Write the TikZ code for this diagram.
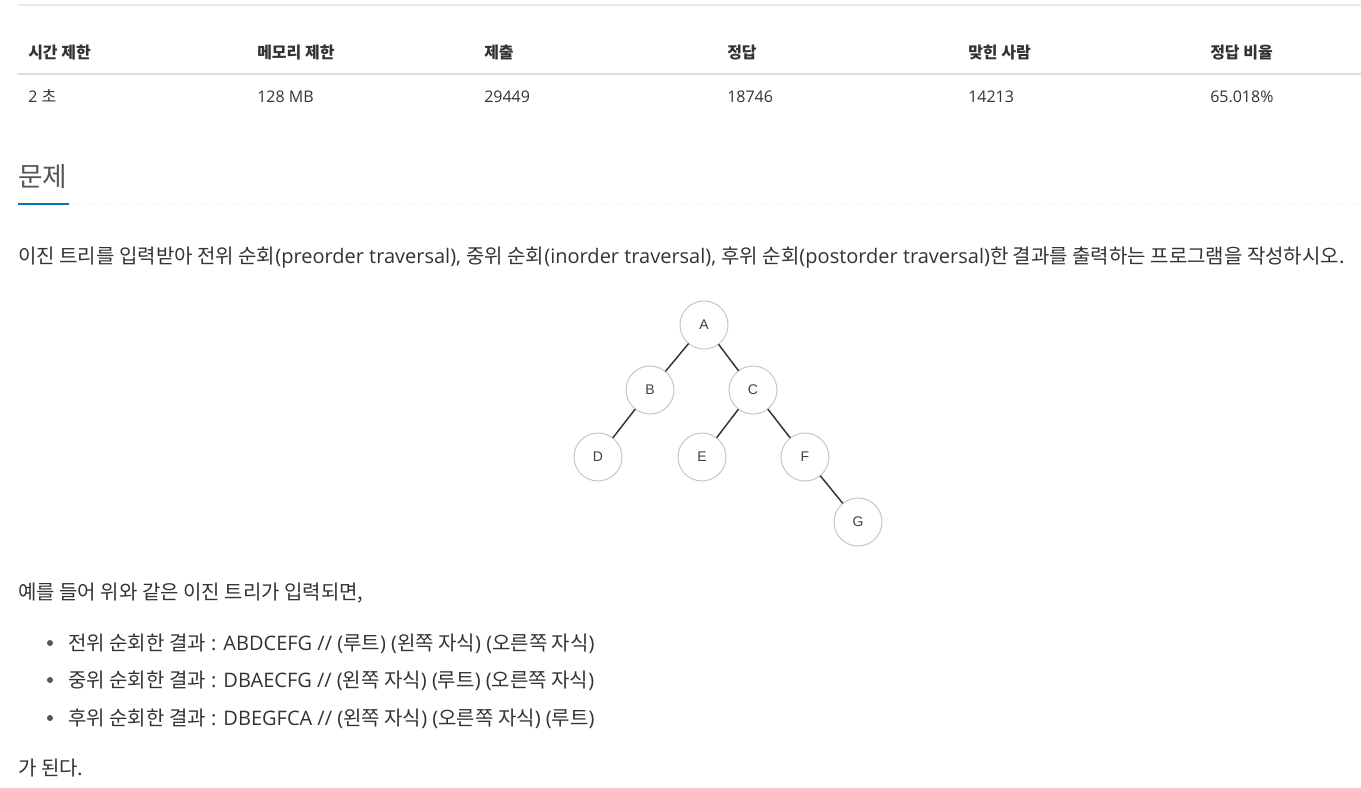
\documentclass[tikz,border=0pt]{standalone}
\usepackage{fontspec}
\setmainfont{Open Sans}
\newfontfamily\krfont{Noto Sans CJK KR}
\newfontfamily\treefont{Liberation Sans}
\newcommand\ko[1]{{\krfont #1}}
\definecolor{txtgray}{HTML}{333333}
\definecolor{headgray}{HTML}{555555}
\definecolor{rulegray}{HTML}{DDDDDD}
\definecolor{linkblue}{HTML}{0076C0}
\definecolor{nodegray}{HTML}{C4C4C4}
\begin{document}
\begin{tikzpicture}[x=0.75pt,y=-0.75pt,line join=round,line cap=round,
  txt/.style={anchor=base west,inner sep=0pt,text=txtgray,font=\fontsize{15}{18}\selectfont},
  cell/.style={anchor=base west,inner sep=0pt,text=txtgray,font=\fontsize{12}{14}\selectfont},
  vert/.style={circle,draw=nodegray,line width=0.7pt,minimum size=36pt,inner sep=0pt,text=black!75,font=\treefont\fontsize{10.5}{12}\selectfont},
  edge/.style={draw=black!80,line width=1.1pt},
  dot/.style={circle,fill=headgray,inner sep=0pt,minimum size=4.5pt}]
\useasboundingbox[fill=white] (0,0) rectangle (1361,788);
% table of limits
\draw[rulegray!60,line width=1pt] (18,5) -- (1361,5);
\draw[rulegray,line width=1.5pt] (18,74) -- (1361,74);
\foreach \x/\h/\v [count=\i] in {28/시간 제한/2 \ko{초},257/메모리 제한/128 MB,484/제출/29449,
  727/정답/18746,968/맞힌 사람/14213,1210/정답 비율/65.018\%}{
  \node[cell,font=\krfont\bfseries\fontsize{12}{14}\selectfont] (h\i) at (\x,59) {\h};
  \node[cell] (v\i) at (\x,103) {\v};
}
% heading
\node[anchor=base west,inner sep=0pt,text=headgray,font=\krfont\fontsize{20}{24}\selectfont] (title) at (18,187) {문제};
\draw[rulegray!50,dotted] (69,204) -- (1361,204);
\draw[linkblue,line width=2pt,line cap=butt] (18,204) -- (69,204);
\node[txt] (intro) at (18,263) {\ko{이진 트리를 입력받아 전위 순회}(preorder traversal), \ko{중위 순회}(inorder traversal), \ko{후위 순회}(postorder traversal)\ko{한 결과를 출력하는 프로그램을 작성하시오.}};
% tree
\node[vert] (A) at (704,325) {A};
\node[vert] (B) at (650,390) {B};
\node[vert] (C) at (753,390) {C};
\node[vert] (D) at (598,457) {D};
\node[vert] (E) at (702,457) {E};
\node[vert] (F) at (805,457) {F};
\node[vert] (G) at (858,522) {G};
\draw[edge] (A)--(B) (A)--(C) (B)--(D) (C)--(E) (C)--(F) (F)--(G);
% example
\node[txt] (ex) at (18,599) {\ko{예를 들어 위와 같은 이진 트리가 입력되면,}};
\node[dot] (b1) at (50,643) {};
\node[dot] (b2) at (50,680) {};
\node[dot] (b3) at (50,718) {};
\node[txt] (pre) at (68,650) {\ko{전위 순회한 결과} : ABDCEFG // (\ko{루트}) (\ko{왼쪽 자식}) (\ko{오른쪽 자식})};
\node[txt] (in) at (68,687) {\ko{중위 순회한 결과} : DBAECFG // (\ko{왼쪽 자식}) (\ko{루트}) (\ko{오른쪽 자식})};
\node[txt] (post) at (68,725) {\ko{후위 순회한 결과} : DBEGFCA // (\ko{왼쪽 자식}) (\ko{오른쪽 자식}) (\ko{루트})};
\node[txt] (end) at (18,775) {\ko{가 된다.}};
\end{tikzpicture}
\end{document}
